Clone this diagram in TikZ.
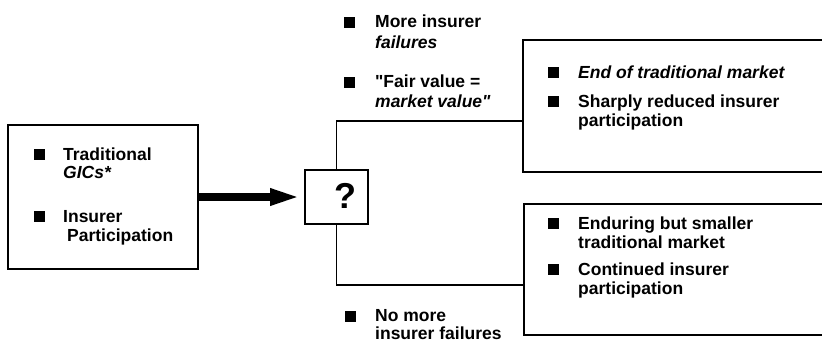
\documentclass[tikz,border=0pt]{standalone}
\usepackage{fontspec}
\setmainfont{Liberation Sans}
\setmonofont{Liberation Sans}
\newcommand{\sq}{{\ttfamily"}}
\usetikzlibrary{arrows.meta}
\tikzset{
  boxline/.style={draw, line width=1.6pt, inner sep=0pt},
  conn/.style={draw, line width=1.4pt},
  bul/.style={fill=black, minimum size=11pt, inner sep=0pt},
  txt/.style={anchor=base west, inner sep=0pt, font=\fontsize{17.5}{19}\selectfont\bfseries},
  bigarrow/.style={line width=8.5pt, -{Triangle[length=31pt, width=15pt]}},
}
\begin{document}
\begin{tikzpicture}[x=1pt, y=-1pt]
\useasboundingbox (0,0) rectangle (822,343);
\clip (0,0) rectangle (822,343);

% left box
\node[boxline, minimum width=190pt, minimum height=144pt] (src) at (103,197) {};
\node[bul] (bs1) at (39,154) {};
\node[txt] (ts1a) at (63,160) {Traditional};
\node[txt] (ts1b) at (63,178) {\itshape GICs*};
\node[bul] (bs2) at (39,216) {};
\node[txt] (ts2a) at (63,222) {Insurer};
\node[txt] (ts2b) at (67,241) {Participation};

% question box
\node[boxline, minimum width=63pt, minimum height=54pt] (q) at (336.5,197) {};
\node[font=\fontsize{36}{36}\selectfont\bfseries, inner sep=0pt] (qm) at (345,196) {?};

% arrow
\draw[bigarrow] (src.east) -- ([xshift=-3pt]q.west);

% right boxes
\node[boxline, minimum width=307pt, minimum height=132pt] (top) at (676.5,106) {};
\node[boxline, minimum width=306pt, minimum height=131pt] (bot) at (677,269.5) {};

% bracket
\coordinate (tin) at (523,121);
\coordinate (bin) at (524,285);
\draw[conn] (q.north) |- (tin);
\draw[conn] (q.south) |- (bin);

% upper conditions
\node[bul] (bu1) at (349,22) {};
\node[txt] (tu1a) at (375,27) {More insurer};
\node[txt] (tu1b) at (375,48) {\itshape failures};
\node[bul] (bu2) at (349,82) {};
\node[txt] (tu2a) at (375,87) {\sq Fair value =};
\node[txt] (tu2b) at (375,107) {\itshape market value\sq};

% lower condition
\node[bul] (bd1) at (350,316) {};
\node[txt] (td1a) at (375,321) {No more};
\node[txt] (td1b) at (375,339) {insurer failures};

% top-right outcomes
\node[bul] (br1) at (553,72.5) {};
\node[txt] (tr1a) at (578,78) {\itshape End of traditional market};
\node[bul] (br2) at (553,101) {};
\node[txt] (tr2a) at (578,107) {Sharply reduced insurer};
\node[txt] (tr2b) at (578,126) {participation};

% bottom-right outcomes
\node[bul] (bb1) at (553,223) {};
\node[txt] (tb1a) at (578,229) {Enduring but smaller};
\node[txt] (tb1b) at (578,248) {traditional market};
\node[bul] (bb2) at (553,269) {};
\node[txt] (tb2a) at (578,275) {Continued insurer};
\node[txt] (tb2b) at (578,294) {participation};
\end{tikzpicture}
\end{document}
